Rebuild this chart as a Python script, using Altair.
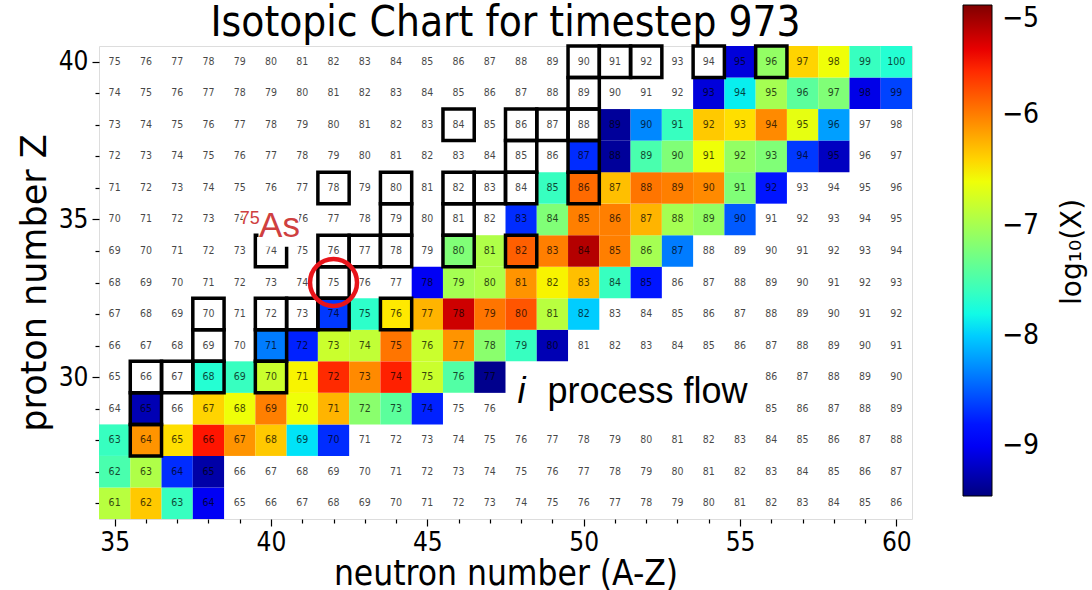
import altair as alt
import pandas as pd

# ---------------- data ----------------
N_MIN, N_MAX = 35, 60
Z_MIN, Z_MAX = 26, 40

# log10(X) per row, listed from N = 35 upward (None = no abundance shown)
ROW_Z26 = [-6.9, -6.35, -7.6, -9.0]
ROW_Z27 = [-7.5, -6.95, -8.7, -9.3]
ROW_Z28 = [-7.6, -6.1, -6.45, -5.5, -6.1, -6.35, -7.9, -8.7]
ROW_Z29 = [None, -9.25, None, -6.4, -6.6, -6.0, -6.6, -6.25, -7.15, -7.4, -8.75]
ROW_Z30 = [None, None, None, -7.7, -7.6, -6.8, -6.55, -5.6, -6.05, -5.55, -6.8, -7.45, -9.4]
ROW_Z31 = [None, None, None, None, None, -8.35, -8.75, -6.8, -6.85, -5.95, -6.8, -6.1, -7.15, -7.6, -9.25]
ROW_Z32 = [None, None, None, None, None, None, None, -8.65, -7.65, -6.5, -6.25, -5.3, -5.95, -5.8, -6.9, -8.0]
ROW_Z33 = [None] * 10 + [-9.0, -7.0, -6.95, -6.1, -6.55, -6.3, -7.6, -8.8]
ROW_Z34 = [None] * 11 + [-7.2, -6.95, -5.85, -6.0, -5.2, -6.0, -7.0, -8.35]
ROW_Z35 = [None] * 13 + [-8.7, -7.2, -6.0, -6.0, -6.25, -7.0, -7.1, -8.5]
ROW_Z36 = [None] * 14 + [-7.6, -5.9, -6.3, -5.95, -6.0, -6.05, -7.2, -8.8]
ROW_Z37 = [None] * 15 + [-8.7, -9.35, -7.5, -7.2, -6.6, -7.1, -7.2, -8.65, -9.2]
ROW_Z38 = [None] * 16 + [-9.35, -8.3, -7.6, -6.35, -6.45, -6.05, -6.65, -8.2]
ROW_Z39 = [None] * 19 + [-9.1, -7.85, -7.0, -7.4, -7.2, -9.05, -8.6]
ROW_Z40 = [None] * 20 + [-9.1, -7.1, -6.4, -6.6, -7.6, -7.7]

# stable isotopes (boxed cells): proton number and mass number
STABLE_Z = [28, 29, 30, 30, 30, 30, 31, 31, 32, 32, 32, 32, 32, 33,
            34, 34, 34, 34, 34, 34, 35, 35, 36, 36, 36, 36, 36, 36,
            37, 37, 38, 38, 38, 38, 39, 40, 40, 40, 40, 40]
STABLE_A = [64, 65, 66, 67, 68, 70, 69, 71, 70, 72, 73, 74, 76, 75,
            74, 76, 77, 78, 80, 82, 79, 81, 78, 80, 82, 83, 84, 86,
            85, 87, 84, 86, 87, 88, 89, 90, 91, 92, 94, 96]

COLORBAR_TICKS = [-9, -8, -7, -6, -5]
VMIN, VMAX = -9.45, -5.0

ROWS = {26: ROW_Z26, 27: ROW_Z27, 28: ROW_Z28, 29: ROW_Z29, 30: ROW_Z30,
        31: ROW_Z31, 32: ROW_Z32, 33: ROW_Z33, 34: ROW_Z34, 35: ROW_Z35,
        36: ROW_Z36, 37: ROW_Z37, 38: ROW_Z38, 39: ROW_Z39, 40: ROW_Z40}

cells, colored = [], []
for z in range(Z_MIN, Z_MAX + 1):
    vals = ROWS[z]
    for n in range(N_MIN, N_MAX + 1):
        rec = dict(N=n, Z=z, A=n + z, x0=n - 0.5, x1=n + 0.5, y0=z - 0.5, y1=z + 0.5)
        cells.append(rec)
        i = n - N_MIN
        if i < len(vals) and vals[i] is not None:
            colored.append(dict(rec, logX=vals[i]))
cells = pd.DataFrame(cells)
colored = pd.DataFrame(colored)
stable = pd.DataFrame({"Z": STABLE_Z, "A": STABLE_A})
stable["N"] = stable["A"] - stable["Z"]
stable["x0"] = stable["N"] - 0.5
stable["x1"] = stable["N"] + 0.5
stable["y0"] = stable["Z"] - 0.5
stable["y1"] = stable["Z"] + 0.5

# ---------------- jet colormap (matplotlib segment data) ----------------
JET_R = [(0, 0), (0.35, 0), (0.66, 1), (0.89, 1), (1, 0.5)]
JET_G = [(0, 0), (0.125, 0), (0.375, 1), (0.64, 1), (0.91, 0), (1, 0)]
JET_B = [(0, 0.5), (0.11, 1), (0.34, 1), (0.65, 0), (1, 0)]


def seg(pts, x):
    for (x0, y0), (x1, y1) in zip(pts[:-1], pts[1:]):
        if x0 <= x <= x1:
            return y0 + (y1 - y0) * (x - x0) / (x1 - x0)
    return pts[-1][1]


stops = sorted({p[0] for p in JET_R + JET_G + JET_B})
jet_colors = ["#%02x%02x%02x" % tuple(int(round(255 * seg(c, s))) for c in (JET_R, JET_G, JET_B))
              for s in stops]
jet_domain = [VMIN + s * (VMAX - VMIN) for s in stops]

# ---------------- styling ----------------
F = "DejaVu Sans Condensed, DejaVu Sans"
FV = "DejaVu Sans"
AF = "Liberation Sans, Arial, sans-serif"
W, H = 813, 473

xscale = alt.Scale(domain=[N_MIN - 0.5, N_MAX + 0.5], nice=False, zero=False)
yscale = alt.Scale(domain=[Z_MIN - 0.5, Z_MAX + 0.5], nice=False, zero=False)

tick_cond = {"condition": {"test": "datum.value % 5 === 0", "value": 7}, "value": 4}
xaxis = alt.Axis(values=list(range(N_MIN, N_MAX + 1)),
                 labelExpr="datum.value % 5 === 0 ? datum.label : ''",
                 tickSize=tick_cond, tickColor="black", tickWidth=1.2,
                 title="neutron number (A-Z)", grid=False, domain=False,
                 labelFont=F, labelFontSize=26, labelColor="black", labelPadding=3,
                 titleFont=F, titleFontSize=35, titleFontWeight="normal",
                 titleColor="black", titlePadding=1, labelFlush=False)
yaxis = alt.Axis(values=list(range(Z_MIN, Z_MAX + 1)),
                 labelExpr="datum.value % 5 === 0 ? datum.label : ''",
                 tickSize=tick_cond, tickColor="black", tickWidth=1.2,
                 title="proton number Z", grid=False, domain=False,
                 labelFont=F, labelFontSize=26, labelColor="black", labelPadding=4,
                 titleFont=FV, titleFontSize=35, titleFontWeight="normal",
                 titleColor="black", titlePadding=6, labelFlush=False)


def X(field):
    return alt.X(field, type="quantitative", scale=xscale, axis=xaxis)


def Y(field):
    return alt.Y(field, type="quantitative", scale=yscale, axis=yaxis)


heat = alt.Chart(colored).mark_rect().encode(
    x=X("x0"), x2="x1", y=Y("y0"), y2="y1",
    color=alt.Color("logX:Q",
                    scale=alt.Scale(domain=jet_domain, range=jet_colors,
                                    interpolate="rgb", clamp=True),
                    legend=alt.Legend(orient="none", legendX=864, legendY=-41,
                                      direction="vertical", gradientLength=491,
                                      gradientThickness=29, values=COLORBAR_TICKS,
                                      format="d",
                                      gradientStrokeColor="black", gradientStrokeWidth=1,
                                      labelFont=F, labelFontSize=28, labelColor="black",
                                      labelOffset=10, labelBaseline="middle",
                                      title=None, padding=0)),
)

boxes = alt.Chart(stable).mark_rect(fillOpacity=0, stroke="black", strokeWidth=3.5).encode(
    x=X("x0"), x2="x1", y=Y("y0"), y2="y1")

labels = alt.Chart(cells).mark_text(font=F, fontSize=10.5, color="black", opacity=0.72).encode(
    x=X("N"), y=Y("Z"), text="A:N")

# annotations (positions in data coordinates)
ANN_BOX_X0 = [47.8, 39.1, 39.6]
ANN_BOX_X1 = [55.5, 40.9, 40.9]
ANN_BOX_Y0 = [28.63, 34.7, 34.13]
ANN_BOX_Y1 = [30.35, 35.4, 34.7]
ann_boxes = alt.Chart(pd.DataFrame({"x0": ANN_BOX_X0, "x1": ANN_BOX_X1,
                                    "y0": ANN_BOX_Y0, "y1": ANN_BOX_Y1})).mark_rect(
    color="white").encode(x=X("x0"), x2="x1", y=Y("y0"), y2="y1")

i_txt = alt.Chart(pd.DataFrame({"N": [47.88], "Z": [29.17], "t": ["i"]})).mark_text(
    font=AF, fontSize=36, fontStyle="italic", align="left", baseline="alphabetic",
    color="black").encode(x=X("N"), y=Y("Z"), text="t:N")
flow_txt = alt.Chart(pd.DataFrame({"N": [48.84], "Z": [29.17], "t": ["process flow"]})).mark_text(
    font=AF, fontSize=36, align="left", baseline="alphabetic",
    color="black").encode(x=X("N"), y=Y("Z"), text="t:N")
as_sup = alt.Chart(pd.DataFrame({"N": [39.0], "Z": [34.86], "t": ["75"]})).mark_text(
    font=AF, fontSize=18, align="left", baseline="alphabetic",
    color="#cf4040").encode(x=X("N"), y=Y("Z"), text="t:N")
as_txt = alt.Chart(pd.DataFrame({"N": [39.62], "Z": [34.44], "t": ["As"]})).mark_text(
    font=AF, fontSize=35, align="left", baseline="alphabetic",
    color="#cf4040").encode(x=X("N"), y=Y("Z"), text="t:N")
cbar_title = alt.Chart(pd.DataFrame({"N": [65.65], "Z": [33.97], "t": ["log₁₀(X)"]})).mark_text(
    font=FV, fontSize=28, angle=270, align="center", baseline="middle",
    color="black").encode(x=X("N"), y=Y("Z"), text="t:N")
title_txt = alt.Chart(pd.DataFrame({"N": [47.5], "Z": [40.83],
                                    "t": ["Isotopic Chart for timestep 973"]})).mark_text(
    font=F, fontSize=42, align="center", baseline="alphabetic",
    color="black").encode(x=X("N"), y=Y("Z"), text="t:N")
circle = alt.Chart(pd.DataFrame({"N": [42], "Z": [33]})).mark_point(
    shape="circle", size=2209, filled=False, stroke="#e8141a", strokeWidth=4.5,
    opacity=1).encode(x=X("N"), y=Y("Z"))

chart = alt.layer(heat, boxes, labels, ann_boxes, i_txt, flow_txt, as_sup, as_txt,
                  cbar_title, title_txt, circle).properties(
    width=W, height=H,
    autosize=alt.AutoSizeParams(type="none"),
    padding={"left": 99, "top": 46, "right": 180, "bottom": 71},
).configure_view(stroke="black", strokeWidth=1.3).configure(background="white")

chart.save("out.html", embed_options={"renderer": "svg", "actions": False})
